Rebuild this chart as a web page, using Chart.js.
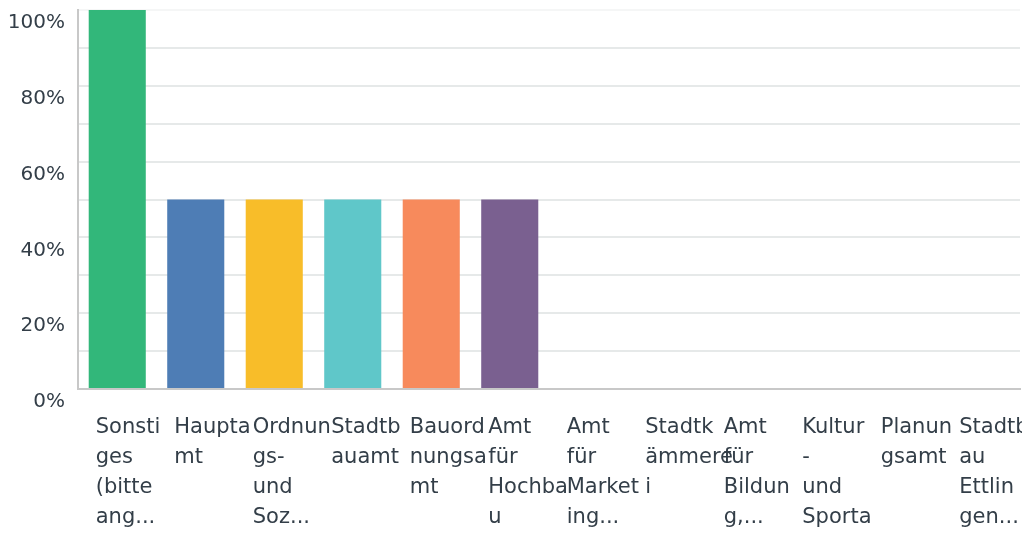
<!DOCTYPE html>
<html>
<head>
<meta charset="utf-8">
<script src="https://cdn.jsdelivr.net/npm/chart.js@4/dist/chart.umd.min.js"></script>
<style>
html,body{margin:0;padding:0;background:#fff;}
#wrap{width:1035px;height:534px;position:relative;}
</style>
</head>
<body>
<div id="wrap"><canvas id="c" width="1035" height="534"></canvas></div>
<script>
const categories = [
  ["Sonsti","ges","(bitte","ang..."],
  ["Haupta","mt"],
  ["Ordnun","gs-","und","Soz..."],
  ["Stadtb","auamt"],
  ["Bauord","nungsa","mt"],
  ["Amt","für","Hochba","u"],
  ["Amt","für","Market","ing..."],
  ["Stadtk","ämmere","i"],
  ["Amt","für","Bildun","g,..."],
  ["Kultur","-","und","Sporta"],
  ["Planun","gsamt"],
  ["Stadtb","au","Ettlin","gen..."]
];
const values = [100, 50, 50, 50, 50, 50, 0, 0, 0, 0, 0, 0];
const barColors = ["#32b77a","#4e7db5","#f8bd29","#5fc7c9","#f78a5c","#7a6090","#32b77a","#4e7db5","#f8bd29","#5fc7c9","#f78a5c","#7a6090"];
const yTickLabels = {0:"0%",20:"20%",40:"40%",60:"60%",80:"80%",100:"100%"};

const textColor = "#333e48";
const clipPlugin = {
  id: 'clipRight',
  beforeDraw(chart) { const c = chart.ctx; c.save(); c.beginPath(); c.rect(0, 0, 1022, chart.height); c.clip(); },
  afterDraw(chart) { chart.ctx.restore(); }
};
new Chart(document.getElementById('c'), {
  type: 'bar',
  data: {
    labels: categories,
    datasets: [{
      data: values,
      backgroundColor: barColors,
      borderWidth: 0,
      barPercentage: 0.727,
      categoryPercentage: 1.0
    }]
  },
  plugins: [clipPlugin],
  options: {
    responsive: false,
    animation: false,
    devicePixelRatio: 1,
    layout: { padding: { top: 10, right: 15, left: 0, bottom: 0 } },
    plugins: { legend: { display: false }, tooltip: { enabled: false } },
    scales: {
      x: {
        grid: { display: false, drawTicks: false },
        border: { display: true, color: "#c8c8c8", width: 2 },
        ticks: {
          autoSkip: false, maxRotation: 0, minRotation: 0,
          align: 'start', labelOffset: -21.5, padding: 24,
          color: textColor,
          font: { family: "'DejaVu Sans'", size: 21, lineHeight: 30/21 }
        },
        afterFit: (s) => { s.height = 145; s.paddingLeft = 0; s.paddingRight = 0; }
      },
      y: {
        min: 0, max: 100,
        grid: {
          color: (ctx) => ctx.tick && ctx.tick.value === 100 ? "#f5f6f6" : "#e6e9e9",
          lineWidth: 2, drawTicks: false
        },
        border: { display: true, color: "#c8c8c8", width: 2 },
        ticks: {
          stepSize: 10, padding: 13, labelOffset: 13,
          color: textColor,
          font: { family: "'DejaVu Sans'", size: 20 },
          callback: (v) => yTickLabels[v] !== undefined ? yTickLabels[v] : ""
        },
        afterFit: (s) => { s.width = 78; s.paddingTop = 0; s.paddingBottom = 0; }
      }
    }
  }
});
</script>
</body>
</html>
